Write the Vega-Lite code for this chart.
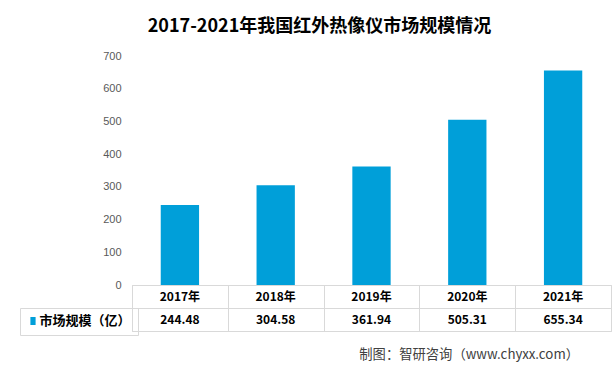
{
  "$schema": "https://vega.github.io/schema/vega-lite/v6.json",
  "padding": {"left": 19, "top": 18, "right": 3, "bottom": 5},
  "title": {"text": "2017-2021年我国红外热像仪市场规模情况", "font": "Noto Sans CJK SC", "fontSize": 18, "fontWeight": "bold", "color": "#000000", "anchor": "middle", "frame": "bounds", "offset": 14, "dx": 4},
  "data": {"values": [
    {"year": "2017年", "value": 244.48},
    {"year": "2018年", "value": 304.58},
    {"year": "2019年", "value": 361.94},
    {"year": "2020年", "value": 505.31},
    {"year": "2021年", "value": 655.34}
  ]},
  "spacing": 0,
  "bounds": "flush",
  "resolve": {"scale": {"x": "independent", "y": "independent"}},
  "config": {"view": {"stroke": null}, "font": "Noto Sans CJK SC"},
  "vconcat": [
    {
      "width": 479,
      "height": 229,
      "mark": {"type": "bar"},
      "encoding": {
        "x": {"field": "year", "type": "nominal", "sort": null, "scale": {"paddingInner": 0.6, "paddingOuter": 0.3}, "axis": null},
        "y": {"field": "value", "type": "quantitative", "scale": {"domain": [0, 700], "nice": false},
          "axis": {"values": [0, 100, 200, 300, 400, 500, 600, 700], "domain": false, "ticks": false, "grid": false, "labelPadding": 11, "labelFont": "Liberation Sans", "labelFontSize": 11, "labelColor": "#595959", "title": null}},
        "color": {"datum": "市场规模（亿）", "scale": {"range": ["#009fd9"]},
          "legend": {"orient": "none", "legendX": -112, "legendY": 252, "title": null, "strokeColor": "#d9d9d9", "padding": 6.5, "symbolType": "M-0.65,-1H0.65V1H-0.65Z", "symbolSize": 64, "symbolStrokeWidth": 0, "labelOffset": 0, "labelFont": "Noto Sans CJK SC", "labelFontSize": 13, "labelFontWeight": "bold", "labelColor": "#000000"}}
      }
    },
    {
      "width": 479,
      "height": 46,
      "view": {"stroke": "#d9d9d9"},
      "title": {"text": "制图：智研咨询（www.chyxx.com）", "orient": "bottom", "anchor": "end", "dx": -32, "offset": 17, "fontSize": 13.3, "fontWeight": "normal", "color": "#404040", "font": "Noto Sans CJK SC"},
      "encoding": {
        "x": {"field": "year", "type": "nominal", "sort": null, "scale": {"paddingInner": 0, "paddingOuter": 0},
          "axis": {"orient": "bottom", "labels": false, "ticks": false, "domain": false, "grid": true, "gridColor": "#d9d9d9", "tickBand": "extent", "title": null}}
      },
      "layer": [
        {
          "mark": {"type": "text", "fontWeight": "bold", "fontSize": 12, "color": "#000000", "font": "Noto Sans CJK SC"},
          "encoding": {
            "y": {"datum": "年份", "type": "nominal", "scale": {"type": "band", "paddingInner": 0, "paddingOuter": 0, "domain": ["年份", "市场规模"]},
              "axis": {"labels": false, "ticks": false, "domain": false, "grid": true, "gridColor": "#d9d9d9", "tickBand": "extent", "title": null}},
            "text": {"field": "year"}
          }
        },
        {
          "mark": {"type": "text", "fontWeight": "bold", "fontSize": 12, "color": "#000000", "font": "Noto Sans CJK SC"},
          "encoding": {
            "y": {"datum": "市场规模", "type": "nominal"},
            "text": {"field": "value", "type": "quantitative", "format": ".2f"}
          }
        }
      ]
    }
  ]
}
